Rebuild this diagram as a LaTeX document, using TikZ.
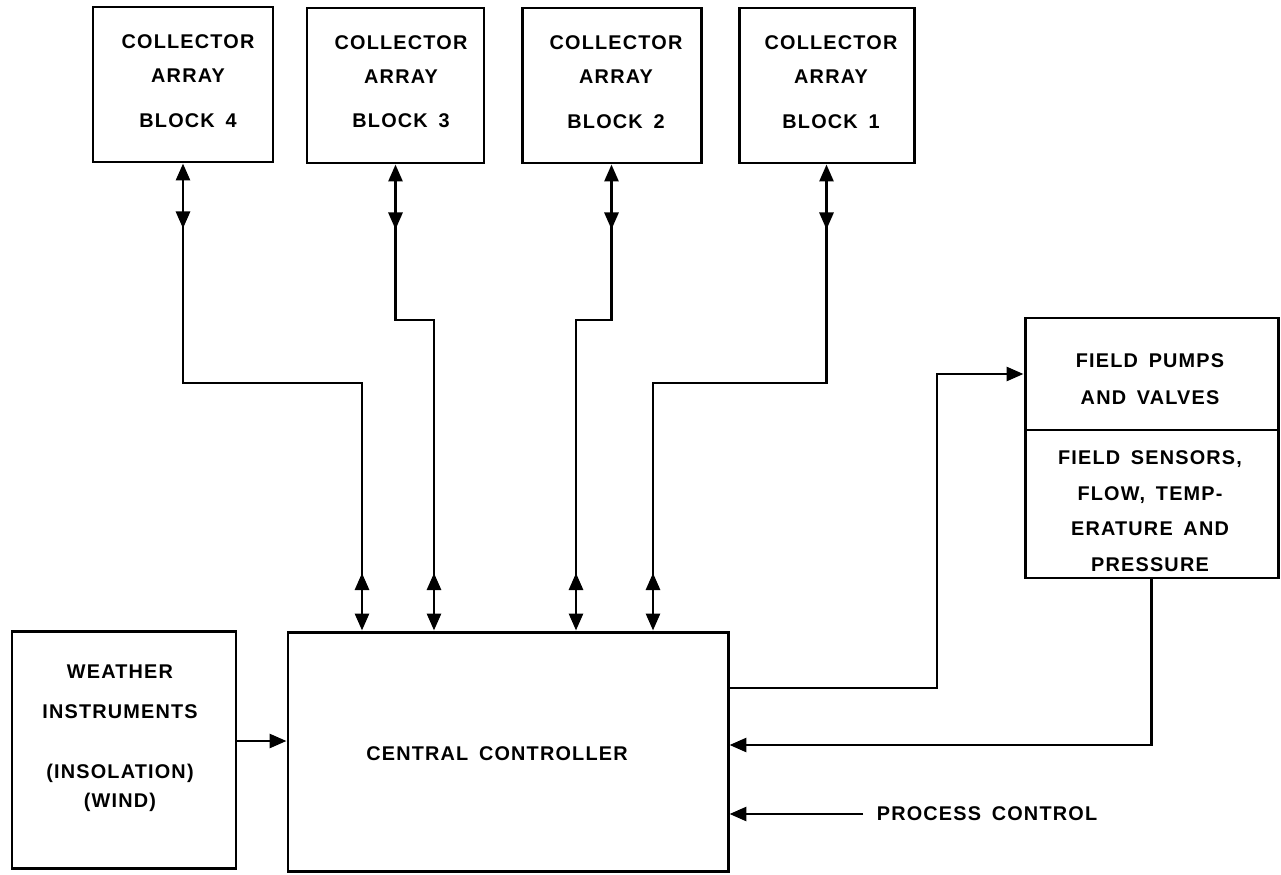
\documentclass[tikz,border=0pt]{standalone}
\usepackage{fontspec}
\newfontfamily\lab{Liberation Sans}[LetterSpace=6,WordSpace=1.6]
\usetikzlibrary{arrows.meta,decorations.markings,fit,calc}
\begin{document}
\begin{tikzpicture}[x=0.02cm,y=-0.02cm,
  box/.style={draw, line width=1.7pt, inner sep=0pt},
  txt/.style={font=\lab\bfseries\fontsize{11.3}{19.3}\selectfont, align=center, inner sep=2pt},
  tipa/.tip={Triangle[length=0.34cm,width=0.28cm]},
  sig/.style={line width=1.6pt, -tipa},
  bus/.style={line width=1.6pt, tipa-tipa, postaction={decorate},
    decoration={markings,
      mark=at position 1.3cm with {\arrow{tipa}},
      mark=at position -1.15cm with {\arrowreversed{tipa}}}}
]
\useasboundingbox (0,0) rectangle (1281,875);

% boxes
\node[box, fit={(93,7)(273,162)}] (b4) {};
\node[box, fit={(307,8)(484,163)}] (b3) {};
\node[box, fit={(522,8)(701,163)}] (b2) {};
\node[box, fit={(739,8)(914,163)}] (b1) {};
\node[box, fit={(1025,318)(1278,430)}] (fp) {};
\node[box, fit={(1025,430)(1278,578)}] (fs) {};
\node[box, fit={(12,631)(236,868)}] (wi) {};
\node[box, fit={(288,632)(728,871)}] (cc) {};

% texts
\node[txt] (t4) at (188,81) {COLLECTOR\\ARRAY\\[6pt]BLOCK 4};
\node[txt] (t3) at (401,82) {COLLECTOR\\ARRAY\\[6pt]BLOCK 3};
\node[txt] (t2) at (616,82) {COLLECTOR\\ARRAY\\[6pt]BLOCK 2};
\node[txt] (t1) at (831,82) {COLLECTOR\\ARRAY\\[6pt]BLOCK 1};
\node[txt] (tfp) at (1150,379) {FIELD PUMPS\\[1.7pt]AND VALVES};
\node[txt] (tfs) at (1150,511) {FIELD SENSORS,\\[1pt]FLOW, TEMP-\\[1pt]ERATURE AND\\[1pt]PRESSURE};
\node[txt] (tw1) at (120,692) {WEATHER\\[3.4pt]INSTRUMENTS};
\node[txt] (tw2) at (120,788) {(INSOLATION)\\[-2.8pt](WIND)};
\node[txt] (tcc) at (497,754) {CENTRAL CONTROLLER};
\node[txt, anchor=west] (pc) at (873,814) {PROCESS CONTROL};

% junctions
\coordinate (j4) at (362,383);
\coordinate (j3) at (434,320);
\coordinate (j2) at (576,320);
\coordinate (j1) at (653,383);
\coordinate (y741) at (0,741);
\coordinate (y688) at (0,688);
\coordinate (y745) at (0,745);
\coordinate (k) at (937,0);

% buses
\draw[bus] (b4.south) |- (j4) -- (j4 |- cc.north);
\draw[bus] (b3.south) |- (j3) -- (j3 |- cc.north);
\draw[bus] (b2.south) |- (j2) -- (j2 |- cc.north);
\draw[bus] (b1.south) |- (j1) -- (j1 |- cc.north);

% signals
\draw[sig] (wi.east |- y741) -- (cc.west |- y741);
\draw[sig] (cc.east |- y688) -| (k |- fp.west) -- (fp.west);
\draw[sig] (fs.south) |- (cc.east |- y745);
\draw[sig, shorten <=0.2cm] (pc.west) -- (cc.east |- pc.west);
\end{tikzpicture}
\end{document}
